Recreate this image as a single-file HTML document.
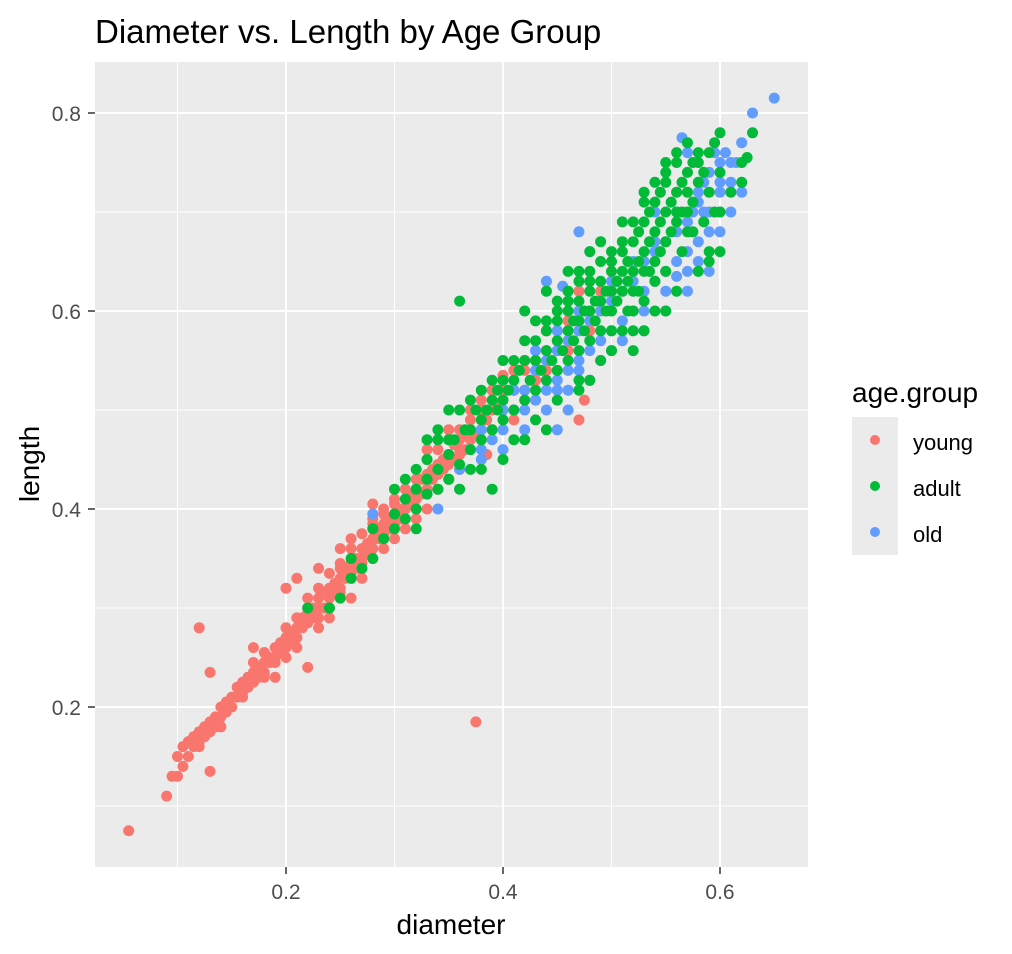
<!DOCTYPE html>
<html><head><meta charset="utf-8"><style>
body{margin:0;background:#fff;}
svg{display:block;font-family:"Liberation Sans",Arial,sans-serif;}
</style></head><body>
<svg id="chart" width="1012" height="954" viewBox="0 0 1012 954">
<text x="95" y="43" font-size="33" fill="#000">Diameter vs. Length by Age Group</text>
<rect x="95" y="62" width="713" height="805" fill="#ebebeb"/>
<g id="grid"></g>
<g id="points"></g>
<g id="axes"></g>
<text x="451" y="934" font-size="28" text-anchor="middle" fill="#000">diameter</text>
<text transform="translate(39,464) rotate(-90)" font-size="28" text-anchor="middle" fill="#000">length</text>
<g>
<text x="852" y="402" font-size="28" fill="#000">age.group</text>
<rect x="852" y="417" width="46" height="138" fill="#ebebeb"/>
<circle cx="875" cy="440" r="5" fill="#F8766D"/>
<circle cx="875" cy="486" r="5" fill="#00BA38"/>
<circle cx="875" cy="532" r="5" fill="#619CFF"/>
<text x="913" y="450" font-size="22" fill="#000">young</text>
<text x="913" y="496" font-size="22" fill="#000">adult</text>
<text x="913" y="542" font-size="22" fill="#000">old</text>
</g>
</svg>
<script>
const xTicks=[0.2,0.4,0.6];
const yTicks=[0.2,0.4,0.6,0.8];
const xMinor=[0.1,0.3,0.5,0.7];
const yMinor=[0.1,0.3,0.5,0.7];
const youngPts=[.055,.075,.09,.11,.095,.13,.1,.13,.1,.15,.105,.14,.105,.16,.11,.15,.11,.165,.115,.16,.115,.17,.12,.165,.12,.175,.12,.28,.125,.17,.125,.18,.13,.175,.13,.185,.13,.135,.13,.235,.135,.18,.135,.19,.14,.19,.14,.2,.145,.195,.145,.205,.15,.2,.15,.21,.155,.21,.155,.22,.16,.215,.16,.225,.165,.22,.165,.23,.17,.225,.17,.235,.17,.245,.175,.23,.175,.24,.18,.235,.18,.245,.18,.255,.185,.245,.185,.25,.19,.25,.19,.26,.19,.245,.195,.255,.195,.265,.2,.26,.2,.27,.2,.28,.205,.265,.205,.275,.21,.27,.21,.28,.21,.29,.215,.28,.215,.29,.22,.285,.22,.295,.22,.3,.225,.29,.225,.3,.23,.3,.23,.31,.23,.29,.235,.3,.235,.315,.24,.31,.24,.32,.245,.315,.245,.325,.25,.32,.25,.33,.25,.345,.255,.33,.255,.34,.26,.335,.26,.345,.26,.36,.265,.34,.265,.35,.27,.35,.27,.36,.27,.375,.275,.355,.275,.365,.28,.36,.28,.37,.28,.385,.285,.37,.285,.38,.29,.375,.29,.385,.29,.395,.295,.38,.295,.39,.3,.385,.3,.395,.3,.405,.305,.39,.305,.4,.31,.4,.31,.41,.315,.405,.315,.415,.32,.41,.32,.42,.325,.415,.325,.43,.33,.42,.33,.435,.335,.43,.335,.44,.34,.435,.34,.445,.345,.44,.345,.45,.35,.445,.35,.455,.355,.45,.355,.465,.36,.455,.36,.47,.365,.46,.365,.475,.37,.47,.37,.48,.375,.475,.375,.185,.38,.48,.38,.49,.385,.455,.385,.49,.39,.5,.395,.505,.4,.51,.41,.52,.42,.54,.43,.55,.44,.56,.45,.58,.47,.49,.475,.51,.46,.59,.48,.6,.49,.62,.22,.24,.24,.29,.25,.36,.26,.37,.2,.32,.21,.33,.23,.34,.28,.405,.19,.23,.17,.26,.33,.46,.35,.48,.36,.44,.42,.52,.44,.58,.4,.535,.46,.56,.47,.62,
.3,.37,.31,.38,.32,.39,.33,.4,.34,.42,.35,.43,.36,.46,.37,.49,.38,.5,.39,.52,.4,.52,.41,.54,.42,.55,.43,.53,.44,.54,.45,.56,.46,.57,.47,.6,.48,.58,.49,.6,.5,.62,.29,.36,.28,.35,.27,.345,.26,.33,.25,.315,.24,.3,.26,.31,.24,.335,.22,.31,.21,.26,.23,.32,.27,.33,.29,.4,.31,.42,.33,.45,.35,.47,.37,.5,.39,.48,.41,.49,.43,.51,.45,.54,.32,.43,.34,.46,.36,.48,.38,.51,.3,.41,.28,.39,.25,.34,.23,.28,.2,.25,.18,.23,.16,.21,.14,.18,.12,.16];
const oldPts=[.28,.395,.34,.4,.36,.44,.37,.46,.38,.45,.39,.47,.4,.48,.41,.5,.42,.5,.42,.52,.43,.51,.43,.54,.44,.52,.44,.55,.45,.53,.45,.56,.46,.54,.46,.57,.47,.55,.47,.58,.475,.6,.48,.56,.48,.59,.49,.57,.49,.6,.5,.58,.5,.61,.505,.63,.51,.59,.51,.62,.52,.6,.52,.63,.53,.62,.53,.65,.54,.63,.54,.66,.55,.64,.55,.67,.56,.65,.56,.68,.57,.66,.57,.69,.575,.7,.58,.67,.58,.71,.585,.73,.59,.68,.59,.74,.595,.76,.6,.75,.605,.76,.61,.75,.615,.75,.62,.77,.63,.8,.65,.815,.565,.775,.44,.63,.455,.625,.48,.66,.47,.68,.56,.635,.57,.64,.58,.65,.55,.62,.53,.6,.6,.72,.585,.7,.57,.76,.54,.7,.6,.68,.4,.5,.38,.48,.45,.48,.46,.5,
.44,.5,.45,.52,.47,.54,.49,.55,.51,.57,.53,.58,.55,.6,.57,.62,.59,.64,.61,.7,.6,.73,.62,.72,.48,.53,.46,.52,.5,.56,.42,.48,.4,.46,.43,.56,.47,.6,.5,.63,.52,.65,.54,.67,.56,.7,.58,.72,.59,.7,.61,.73,.6,.7,.38,.46,.41,.52,.45,.58];
const adultPts=[.22,.3,.24,.3,.25,.31,.26,.33,.27,.34,.28,.35,.29,.37,.3,.38,.3,.395,.31,.39,.31,.41,.32,.4,.32,.42,.33,.415,.33,.43,.34,.42,.34,.44,.35,.43,.35,.455,.355,.47,.36,.445,.36,.61,.365,.48,.37,.46,.37,.48,.375,.5,.38,.47,.38,.49,.385,.5,.39,.48,.39,.51,.395,.5,.395,.52,.4,.49,.4,.51,.4,.53,.405,.52,.41,.5,.41,.53,.415,.54,.42,.51,.42,.55,.425,.53,.43,.52,.43,.55,.43,.57,.435,.54,.44,.53,.44,.56,.44,.58,.445,.55,.45,.54,.45,.57,.45,.59,.455,.56,.46,.55,.46,.58,.46,.6,.465,.57,.465,.59,.47,.56,.47,.59,.47,.61,.475,.58,.475,.6,.48,.57,.48,.6,.48,.62,.485,.59,.485,.61,.49,.58,.49,.61,.49,.63,.495,.6,.495,.62,.5,.6,.5,.62,.5,.64,.505,.61,.505,.63,.51,.62,.51,.64,.51,.66,.515,.63,.515,.65,.52,.62,.52,.64,.52,.67,.525,.65,.525,.68,.53,.64,.53,.66,.53,.69,.535,.67,.535,.7,.54,.65,.54,.68,.54,.71,.545,.69,.545,.72,.55,.67,.55,.7,.55,.73,.555,.71,.56,.69,.56,.72,.56,.75,.565,.7,.565,.73,.57,.72,.57,.74,.575,.71,.575,.75,.58,.73,.58,.76,.585,.74,.59,.66,.59,.65,.59,.72,.595,.77,.6,.7,.6,.78,.625,.755,.63,.78,.48,.66,.46,.64,.44,.62,.42,.6,.5,.58,.52,.6,.54,.63,.53,.61,.35,.5,.34,.47,.33,.45,.32,.38,.38,.44,.4,.45,.39,.42,.51,.58,.47,.53,.55,.64,.57,.68,.52,.58,
.45,.6,.46,.62,.47,.64,.48,.64,.49,.65,.5,.66,.51,.67,.52,.69,.53,.71,.54,.73,.55,.74,.56,.76,.57,.77,.52,.56,.54,.6,.56,.62,.58,.64,.6,.66,.55,.6,.53,.58,.49,.55,.47,.52,.45,.51,.43,.49,.41,.47,.44,.48,.36,.42,.37,.44,.42,.47,.48,.53,.5,.56,.515,.6,.525,.62,.535,.64,.545,.66,.555,.68,.565,.66,.575,.68,.585,.69,.595,.7,.61,.72,.62,.73,.62,.75,.6,.74,.59,.76,.58,.75,.57,.7,.56,.7,.5,.65,.48,.63,.46,.61,.44,.59,.42,.57,.4,.55,.38,.52,.36,.5,.34,.48,.32,.44,.3,.42,.28,.38,.26,.35,.31,.43,.33,.47,.35,.47,.37,.51,.39,.53,.41,.55,.43,.59,.45,.61,.47,.63,.49,.67,.51,.69,.53,.72,.55,.75];
const NS='http://www.w3.org/2000/svg';
function X(v){return 69+v*1085;}
function Y(v){return 905-v*990;}
function mk(tag,attrs,parent){const e=document.createElementNS(NS,tag);for(const k in attrs)e.setAttribute(k,attrs[k]);parent.appendChild(e);return e;}
const grid=document.getElementById('grid'),axes=document.getElementById('axes'),pts=document.getElementById('points');
xMinor.forEach(v=>{const l=mk('line',{x1:X(v),x2:X(v),y1:62,y2:867,stroke:'#fff','stroke-width':1},grid);

});
yMinor.forEach(v=>{const l=mk('line',{x1:95,x2:808,y1:Y(v),y2:Y(v),stroke:'#fff','stroke-width':1},grid);

});
xTicks.forEach(v=>{const l=mk('line',{x1:X(v),x2:X(v),y1:62,y2:867,stroke:'#fff','stroke-width':2},grid);


const t=mk('line',{x1:X(v),x2:X(v),y1:867,y2:874,stroke:'#333','stroke-width':1.5},axes);


const tx=mk('text',{x:X(v),y:899,'font-size':21,'text-anchor':'middle',fill:'#4d4d4d'},axes);tx.textContent=v.toFixed(1);

});
yTicks.forEach(v=>{const l=mk('line',{x1:95,x2:808,y1:Y(v),y2:Y(v),stroke:'#fff','stroke-width':2},grid);


const t=mk('line',{x1:88,x2:95,y1:Y(v),y2:Y(v),stroke:'#333','stroke-width':1.5},axes);


const tx=mk('text',{x:81,y:Y(v)+8,'font-size':21,'text-anchor':'end',fill:'#4d4d4d'},axes);tx.textContent=v.toFixed(1);

});
function drawGroup(arr,color,name){for(let i=0;i<arr.length;i+=2){const c=mk('circle',{cx:X(arr[i]),cy:Y(arr[i+1]),r:5.5,fill:color},pts);

}}
drawGroup(youngPts,'#F8766D','point-young');
drawGroup(oldPts,'#619CFF','point-old');
drawGroup(adultPts,'#00BA38','point-adult');
</script>
</body></html>
